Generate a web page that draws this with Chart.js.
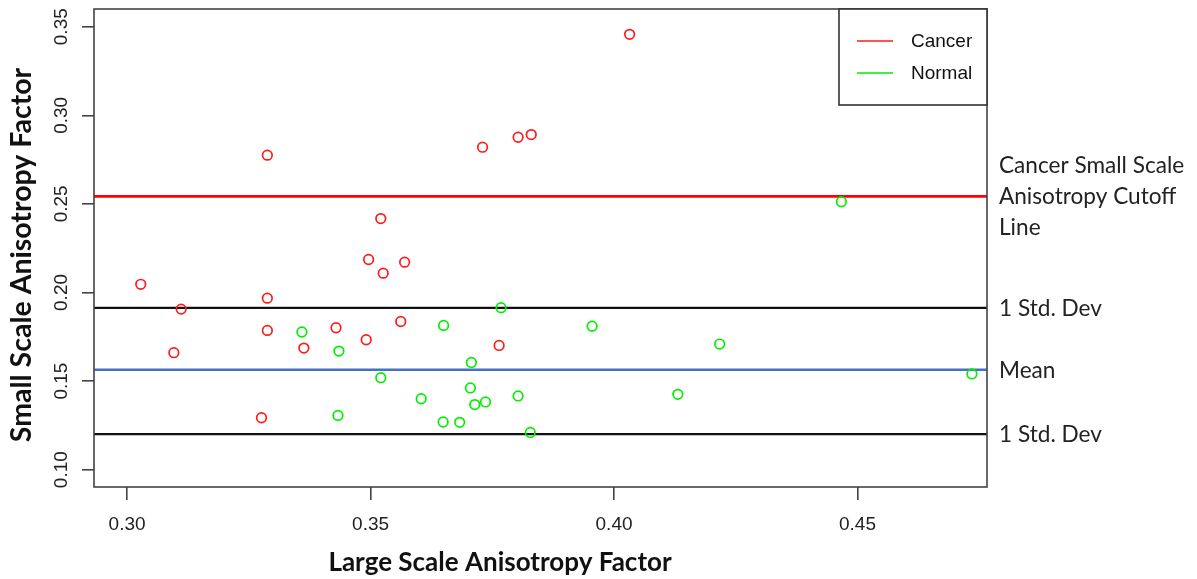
<!DOCTYPE html>
<html>
<head>
<meta charset="utf-8">
<script src="https://cdn.jsdelivr.net/npm/chart.js@4.4.1/dist/chart.umd.min.js"></script>
<style>
  html, body { margin: 0; padding: 0; background: #fff; }
  #wrap { width: 1197px; height: 579px; }
</style>
</head>
<body>
<div id="wrap"><canvas id="chart" width="1197" height="579"></canvas></div>
<script>
// values
const cancerX = [0.4032, 0.3730, 0.3803, 0.3830, 0.3288, 0.3521, 0.3028, 0.3496, 0.3526, 0.3570,
                 0.3288, 0.3111, 0.3288, 0.3429, 0.3363, 0.3491, 0.3096, 0.3562, 0.3764, 0.3276];
const cancerY = [0.3457, 0.2820, 0.2876, 0.2891, 0.2775, 0.2417, 0.2046, 0.2186, 0.2109, 0.2171,
                 0.1968, 0.1906, 0.1786, 0.1801, 0.1686, 0.1733, 0.1660, 0.1836, 0.1701, 0.1293];
const normalX = [0.3768, 0.3650, 0.3955, 0.4217, 0.3707, 0.3521, 0.4735, 0.3705, 0.3604, 0.3714,
                 0.3736, 0.3803, 0.4131, 0.3649, 0.3683, 0.3828, 0.4467, 0.3359, 0.3435, 0.3433];
const normalY = [0.1914, 0.1814, 0.1810, 0.1709, 0.1605, 0.1519, 0.1540, 0.1461, 0.1400, 0.1367,
                 0.1382, 0.1416, 0.1425, 0.1269, 0.1267, 0.1210, 0.2512, 0.1777, 0.1669, 0.1306];

const xTicks = [0.30, 0.35, 0.40, 0.45];
const yTicks = [0.10, 0.15, 0.20, 0.25, 0.30, 0.35];
const xRange = [0.2932, 0.4766];
const yRange = [0.0902, 0.3600];

const cutoffLine = 0.2542;
const sdHigh = 0.1913;
const meanLine = 0.1564;
const sdLow = 0.1201;

const RED = "#ff1a1a";
const GREEN = "#00ee00";
const TICK_FONT = "'Liberation Sans', Arial, sans-serif";
const NOTE_FONT = "Lato, 'Open Sans', sans-serif";

const refLines = [
  { value: cutoffLine, color: "#ff0000", width: 2.7 },
  { value: sdHigh, color: "#111", width: 2.2 },
  { value: meanLine, color: "#4472c4", width: 2.4 },
  { value: sdLow, color: "#111", width: 2.2 }
];

const notes = [
  { at: cutoffLine, lines: ["Cancer Small Scale", "Anisotropy Cutoff", "Line"] },
  { at: sdHigh, lines: ["1 Std. Dev"] },
  { at: meanLine, lines: ["Mean"] },
  { at: sdLow, lines: ["1 Std. Dev"] }
];

function pointsOf(xs, ys) {
  return xs.map((x, i) => ({ x, y: ys[i] }));
}

function circles(label, xs, ys, color) {
  return {
    label,
    data: pointsOf(xs, ys),
    borderColor: color,
    backgroundColor: "rgba(0,0,0,0)",
    borderWidth: 1.7,
    pointRadius: 4.8,
    pointHoverRadius: 4.8
  };
}

const decorations = {
  id: "decorations",
  beforeDatasetsDraw(chart) {
    const { ctx, chartArea: a, scales } = chart;
    ctx.save();
    refLines.forEach(l => {
      const y = scales.y.getPixelForValue(l.value);
      ctx.strokeStyle = l.color;
      ctx.lineWidth = l.width;
      ctx.beginPath();
      ctx.moveTo(a.left, y);
      ctx.lineTo(a.right, y);
      ctx.stroke();
    });
    ctx.restore();
  },
  afterDraw(chart) {
    const { ctx, chartArea: a, scales } = chart;
    ctx.save();

    // plot frame
    ctx.strokeStyle = "#444";
    ctx.lineWidth = 1.6;
    ctx.strokeRect(a.left, a.top, a.right - a.left, a.bottom - a.top);

    // y tick labels, turned like R does
    ctx.fillStyle = "#222";
    ctx.font = "19px " + TICK_FONT;
    ctx.textAlign = "center";
    ctx.textBaseline = "alphabetic";
    yTicks.forEach(v => {
      const y = scales.y.getPixelForValue(v);
      ctx.save();
      ctx.translate(a.left - 27.5, y);
      ctx.rotate(-Math.PI / 2);
      ctx.fillText(v.toFixed(2), 0, 0);
      ctx.restore();
    });

    // legend box
    const lx = a.right - 148, ly = a.top, lw = 148, lh = 96;
    ctx.fillStyle = "#fff";
    ctx.fillRect(lx, ly, lw, lh);
    ctx.strokeStyle = "#333";
    ctx.lineWidth = 1.6;
    ctx.strokeRect(lx, ly, lw, lh);
    chart.data.datasets.forEach((ds, i) => {
      const y = ly + 32 + i * 32;
      ctx.strokeStyle = ds.borderColor;
      ctx.lineWidth = 1.6;
      ctx.beginPath();
      ctx.moveTo(lx + 18, y);
      ctx.lineTo(lx + 54, y);
      ctx.stroke();
      ctx.fillStyle = "#111";
      ctx.font = "19px " + TICK_FONT;
      ctx.textAlign = "left";
      ctx.textBaseline = "middle";
      ctx.fillText(ds.label, lx + 72, y + 1);
    });

    // axis titles
    ctx.fillStyle = "#111";
    ctx.font = "bold 26px " + NOTE_FONT;
    ctx.textAlign = "center";
    ctx.textBaseline = "alphabetic";
    ctx.fillText("Large Scale Anisotropy Factor", 500, 571);
    ctx.save();
    ctx.translate(31, 255);
    ctx.rotate(-Math.PI / 2);
    ctx.font = "bold 28.5px " + NOTE_FONT;
    ctx.fillText("Small Scale Anisotropy Factor", 0, 0);
    ctx.restore();

    // notes to the right of the plot
    ctx.fillStyle = "#222";
    ctx.font = "22.6px " + NOTE_FONT;
    ctx.textAlign = "left";
    notes.forEach(n => {
      const y = scales.y.getPixelForValue(n.at);
      const first = y + 8 - (n.lines.length - 1) * 31 / 2;
      n.lines.forEach((t, i) => ctx.fillText(t, a.right + 12, first + i * 31));
    });

    ctx.restore();
  }
};

new Chart(document.getElementById("chart"), {
  type: "scatter",
  data: {
    datasets: [
      circles("Cancer", cancerX, cancerY, RED),
      circles("Normal", normalX, normalY, GREEN)
    ]
  },
  plugins: [decorations],
  options: {
    responsive: false,
    animation: false,
    layout: { padding: { left: 0, right: 210, top: 9, bottom: 0 } },
    plugins: { legend: { display: false }, tooltip: { enabled: false } },
    scales: {
      x: {
        type: "linear",
        min: xRange[0],
        max: xRange[1],
        afterBuildTicks: s => { s.ticks = xTicks.map(v => ({ value: v })); },
        afterFit: s => { s.height = 92; },
        border: { display: false },
        grid: { drawOnChartArea: false, drawTicks: true, tickLength: 13, color: "#444", lineWidth: 1.6 },
        ticks: {
          color: "#222",
          font: { family: TICK_FONT, size: 19 },
          padding: 13,
          maxRotation: 0,
          callback: v => v.toFixed(2)
        }
      },
      y: {
        type: "linear",
        min: yRange[0],
        max: yRange[1],
        afterBuildTicks: s => { s.ticks = yTicks.map(v => ({ value: v })); },
        afterFit: s => { s.width = 94; },
        border: { display: false },
        grid: { drawOnChartArea: false, drawTicks: true, tickLength: 12, color: "#444", lineWidth: 1.6 },
        ticks: { display: false }
      }
    }
  }
});
</script>
</body>
</html>
